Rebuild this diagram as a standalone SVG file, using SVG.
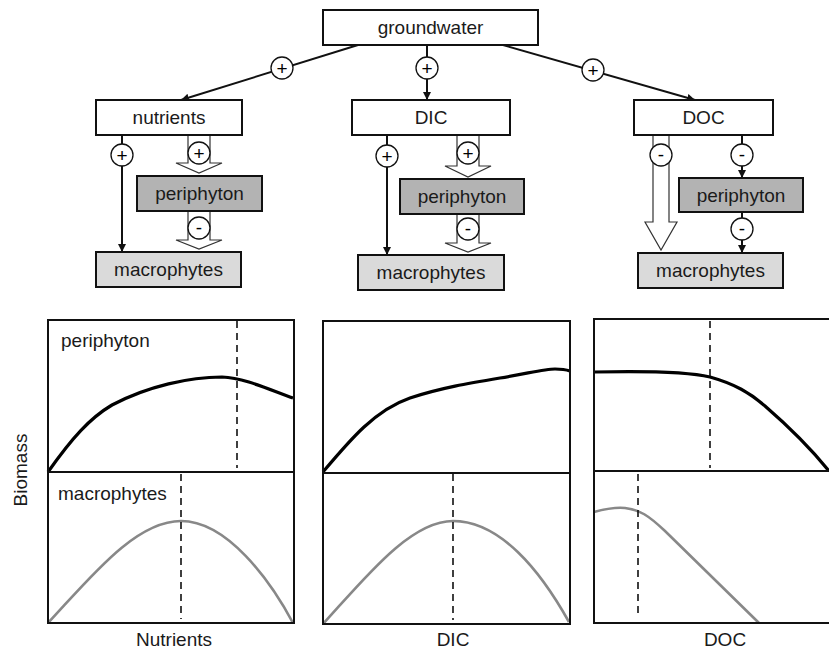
<svg xmlns="http://www.w3.org/2000/svg" width="829" height="652" viewBox="0 0 829 652">
<style>
text{font-family:"Liberation Sans",Arial,sans-serif;font-size:19px;fill:#1a1a1a}
.c{text-anchor:middle}
.box{fill:#fff;stroke:#111;stroke-width:2}
.peri{fill:#b3b3b3;stroke:#111;stroke-width:2}
.mac{fill:#dadada;stroke:#111;stroke-width:2}
.ln{stroke:#111;stroke-width:2;fill:none}
.hol{fill:#fff;stroke:#333;stroke-width:1.2}
.sg{fill:#fff;stroke:#111;stroke-width:1.3}
.st{font-size:19px;fill:#000}
.frame{fill:none;stroke:#111;stroke-width:2}
.dash{stroke:#111;stroke-width:1.6;stroke-dasharray:7,5;fill:none}
.pc{stroke:#000;stroke-width:3.2;fill:none}
.mc{stroke:#888;stroke-width:2.6;fill:none}
</style>
<defs>
<marker id="ah" viewBox="0 0 10 10" refX="10" refY="5" markerWidth="4" markerHeight="4" orient="auto" markerUnits="strokeWidth">
<path d="M0,0 L10,5 L0,10 z" fill="#111"/>
</marker>
</defs>

<g id="connectors">
<line class="ln" x1="358" y1="45" x2="181" y2="100" marker-end="url(#ah)"/>
<line class="ln" x1="427" y1="45" x2="427" y2="100" marker-end="url(#ah)"/>
<line class="ln" x1="503" y1="45" x2="695" y2="100" marker-end="url(#ah)"/>
<line class="ln" x1="122" y1="135" x2="122" y2="252" marker-end="url(#ah)"/>
<line class="ln" x1="387" y1="135" x2="387" y2="255" marker-end="url(#ah)"/>
<line class="ln" x1="742" y1="135" x2="742" y2="178" marker-end="url(#ah)"/>
<line class="ln" x1="742" y1="212" x2="742" y2="253" marker-end="url(#ah)"/>
<path class="hol" d="M188,135 V163 H176 L199,173 L222,163 H210 V135"/>
<path class="hol" d="M188,211 V240 H176 L199,249 L222,240 H210 V211"/>
<path class="hol" d="M457,135 V166 H445 L468,177 L491,166 H479 V135"/>
<path class="hol" d="M457,214 V243 H445 L468,252 L491,243 H479 V214"/>
<path class="hol" d="M653,135 V222 H645 L661,250 L677,222 H669 V135"/>
<circle class="sg" cx="282" cy="68" r="11"/><text class="c st" x="282" y="74.5">+</text>
<circle class="sg" cx="427" cy="68" r="11"/><text class="c st" x="427" y="74.5">+</text>
<circle class="sg" cx="593" cy="70" r="11"/><text class="c st" x="593" y="76.5">+</text>
<circle class="sg" cx="122" cy="155" r="11"/><text class="c st" x="122" y="161.5">+</text>
<circle class="sg" cx="199" cy="153" r="11"/><text class="c st" x="199" y="159.5">+</text>
<circle class="sg" cx="199" cy="228" r="11"/><text class="c st" x="199" y="234">-</text>
<circle class="sg" cx="387" cy="156" r="11"/><text class="c st" x="387" y="162.5">+</text>
<circle class="sg" cx="468" cy="153" r="11"/><text class="c st" x="468" y="159.5">+</text>
<circle class="sg" cx="468" cy="229" r="11"/><text class="c st" x="468" y="235">-</text>
<circle class="sg" cx="661" cy="155" r="11"/><text class="c st" x="661" y="161">-</text>
<circle class="sg" cx="742" cy="155" r="11"/><text class="c st" x="742" y="161">-</text>
<circle class="sg" cx="742" cy="229" r="11"/><text class="c st" x="742" y="235">-</text>
</g>

<g id="groundwater"><rect class="box" x="323" y="10" width="215" height="35"/><text class="c" x="430.5" y="34">groundwater</text></g>
<g id="nutrients"><rect class="box" x="96" y="100" width="146" height="35"/><text class="c" x="169" y="124">nutrients</text></g>
<g id="periphyton1"><rect class="peri" x="137" y="176" width="125" height="35"/><text class="c" x="199.5" y="200">periphyton</text></g>
<g id="macrophytes1"><rect class="mac" x="96" y="252" width="145" height="35"/><text class="c" x="168.5" y="276">macrophytes</text></g>
<g id="DIC"><rect class="box" x="352" y="100" width="158" height="35"/><text class="c" x="431" y="124">DIC</text></g>
<g id="periphyton2"><rect class="peri" x="400" y="179" width="124" height="35"/><text class="c" x="462" y="203">periphyton</text></g>
<g id="macrophytes2"><rect class="mac" x="358" y="255" width="146" height="35"/><text class="c" x="431" y="279">macrophytes</text></g>
<g id="DOC"><rect class="box" x="634" y="100" width="139" height="35"/><text class="c" x="703.5" y="124">DOC</text></g>
<g id="periphyton3"><rect class="peri" x="679" y="178" width="124" height="34"/><text class="c" x="741" y="202">periphyton</text></g>
<g id="macrophytes3"><rect class="mac" x="638" y="253" width="145" height="35"/><text class="c" x="710.5" y="277">macrophytes</text></g>

<g id="plots">
<path class="pc" d="M48,472 C72,438 90,418 112,405 C148,386 190,377 222,377 C245,378 270,390 293,398"/>
<path class="mc" d="M48,623 C90,578 135,521 181,521 C227,521 270,580 293,623"/>
<line class="dash" x1="237" y1="321" x2="237" y2="468"/>
<line class="dash" x1="181" y1="474" x2="181" y2="619"/>
<rect class="frame" x="48" y="320" width="246" height="303"/>
<line class="ln" x1="48" y1="472" x2="294" y2="472"/>

<path class="pc" d="M323,472 C350,440 375,410 410,398 C440,388 470,383 500,378 C530,373 545,369 555,369 C562,369 567,370 570,371"/>
<path class="mc" d="M323,624 C365,578 410,521 453,521 C500,521 540,570 569,622"/>
<line class="dash" x1="453" y1="474" x2="453" y2="620"/>
<rect class="frame" x="323" y="321" width="247" height="303"/>
<line class="ln" x1="323" y1="473" x2="570" y2="473"/>

<path class="pc" d="M594,372 C640,371 685,371 710,377 C735,384 750,393 765,406 C795,432 812,450 829,471"/>
<path class="mc" d="M594,512 C605,509 615,507 625,508 C640,510 648,515 665,531 L759,623"/>
<line class="dash" x1="710" y1="321" x2="710" y2="468"/>
<line class="dash" x1="638" y1="474" x2="638" y2="618"/>
<rect class="frame" x="594" y="319" width="240" height="304"/>
<line class="ln" x1="594" y1="471" x2="829" y2="471"/>

<text x="61" y="347">periphyton</text>
<text x="58" y="500">macrophytes</text>
<text class="c" transform="translate(27,470) rotate(-90)">Biomass</text>
<text class="c" x="174" y="646">Nutrients</text>
<text class="c" x="453" y="646">DIC</text>
<text class="c" x="725" y="646">DOC</text>
</g>
</svg>
